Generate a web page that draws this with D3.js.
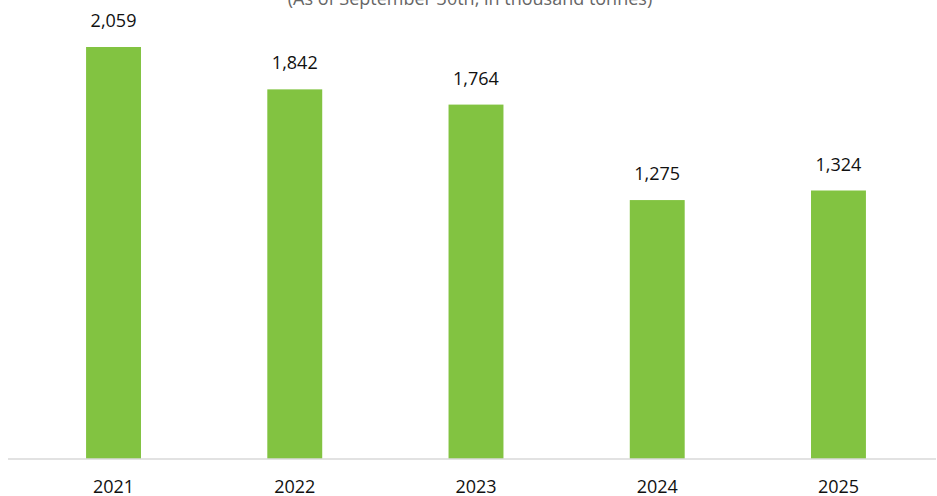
<!DOCTYPE html>
<html lang="en">
<head>
  <meta charset="UTF-8" />
  <title>Stocks</title>
  <style>
    body { margin: 0; background: #fff; font-family: "Open Sans", Arial, sans-serif; }
    svg { display: block; }
  </style>
</head>
<body>
  <div id="chart"></div>
  <script src="https://cdnjs.cloudflare.com/ajax/libs/d3/7.8.4/d3.min.js"></script>
  <script>
    const years = ["2021", "2022", "2023", "2024", "2025"];
    const stocks = [2059, 1842, 1764, 1275, 1324];
    const subtitle = "(As of September 30th, in thousand tonnes)";

    const width = 937, height = 496;
    const baseY = 459; // axis line
    const svg = d3.select("#chart").append("svg").attr("width", width).attr("height", height);

    const x = d3.scaleBand().domain(years).range([23, 929]).paddingInner(0.697).paddingOuter(0.348);
    const y = d3.scaleLinear().domain([0, 2059]).range([449, 47]);

    // subtitle, mostly cut off at the top
    svg.append("text")
      .attr("x", 470).attr("y", 4.5)
      .attr("text-anchor", "middle")
      .attr("font-size", 18)
      .attr("fill", "#666")
      .text(subtitle);

    const data = years.map((yr, i) => ({ year: yr, value: stocks[i] }));

    svg.append("g")
      .selectAll("rect")
      .data(data)
      .enter().append("rect")
      .attr("x", d => x(d.year))
      .attr("y", d => y(d.value))
      .attr("width", x.bandwidth())
      .attr("height", d => baseY - y(d.value))
      .attr("fill", "#82c341");

    svg.append("g")
      .selectAll("text")
      .data(data)
      .enter().append("text")
      .attr("x", d => x(d.year) + x.bandwidth() / 2)
      .attr("y", d => y(d.value) - 20)
      .attr("text-anchor", "middle")
      .attr("font-size", 18)
      .attr("fill", "#111")
      .text(d => d3.format(",")(d.value));

    // x axis: baseline + year labels
    const axis = svg.append("g").attr("transform", `translate(0,${baseY})`)
      .call(d3.axisBottom(x).tickSize(0).tickPadding(15));
    axis.select(".domain").remove();
    axis.append("line")
      .attr("x1", 8).attr("x2", 936)
      .attr("stroke", "#d9d9d9").attr("stroke-width", 1.5);
    axis.selectAll(".tick text")
      .attr("font-family", "'Open Sans', Arial, sans-serif")
      .attr("font-size", 18)
      .attr("fill", "#111")
      .attr("dy", "0")
      .attr("y", 34);
  </script>
</body>
</html>
